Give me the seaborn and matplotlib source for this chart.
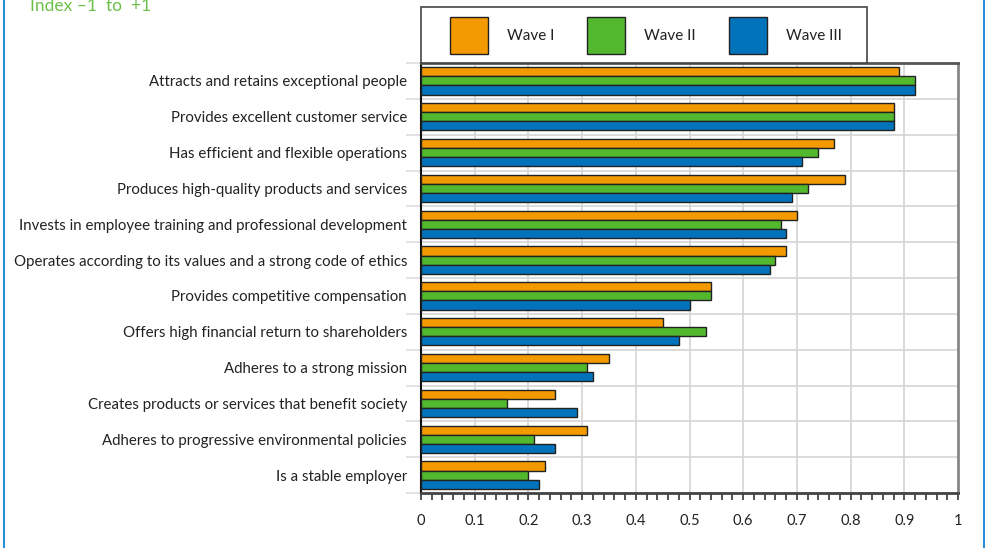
import matplotlib
matplotlib.use("Agg")
import matplotlib.pyplot as plt
import seaborn as sns
import pandas as pd
import numpy as np
from matplotlib.ticker import MultipleLocator, FixedLocator
from matplotlib.patches import Patch, Rectangle

categories = [
    "Attracts and retains exceptional people",
    "Provides excellent customer service",
    "Has efficient and flexible operations",
    "Produces high-quality products and services",
    "Invests in employee training and professional development",
    "Operates according to its values and a strong code of ethics",
    "Provides competitive compensation",
    "Offers high financial return to shareholders",
    "Adheres to a strong mission",
    "Creates products or services that benefit society",
    "Adheres to progressive environmental policies",
    "Is a stable employer",
]
waves = ["Wave I", "Wave II", "Wave III"]
wave1 = [0.89, 0.88, 0.77, 0.79, 0.70, 0.68, 0.54, 0.45, 0.35, 0.25, 0.31, 0.23]
wave2 = [0.92, 0.88, 0.74, 0.72, 0.67, 0.66, 0.54, 0.53, 0.31, 0.16, 0.21, 0.20]
wave3 = [0.92, 0.88, 0.71, 0.69, 0.68, 0.65, 0.50, 0.48, 0.32, 0.29, 0.25, 0.22]
colors = ["#F29A00", "#52B92E", "#0073BB"]
xticklabels = ["0", "0.1", "0.2", "0.3", "0.4", "0.5", "0.6", "0.7", "0.8", "0.9", "1"]
title_text = "Index \u20131  to  +1"

rows = []
for w, vals in zip(waves, [wave1, wave2, wave3]):
    for c, v in zip(categories, vals):
        rows.append({"category": c, "wave": w, "value": v})
df = pd.DataFrame(rows)

sns.set_style("white")
plt.rcParams["font.family"] = ["Lato", "DejaVu Sans"]

W, H = 985, 548
fig = plt.figure(figsize=(W/100, H/100), dpi=100)
ax = fig.add_axes([421/W, 1-493/H, (958-421)/W, (493-63)/H])

sns.barplot(data=df, y="category", x="value", hue="wave", order=categories,
            hue_order=waves, palette=colors, saturation=1, orient="h", width=0.76,
            edgecolor="#222222", linewidth=1.0, ax=ax, legend=False, zorder=3)

ax.set_xlim(0, 1)
ax.set_ylim(len(categories)-0.5, -0.5)
ax.set_xlabel("")
ax.set_ylabel("")
ax.set_xticks(np.linspace(0, 1, 11))
ax.set_xticklabels(xticklabels)
ax.xaxis.set_minor_locator(MultipleLocator(0.02))
ax.tick_params(axis="x", which="both", direction="out", length=5, width=1.2,
               color="#333333", labelsize=10.5, labelcolor="#222222", pad=10, bottom=True)
ax.yaxis.set_minor_locator(FixedLocator(np.arange(-0.5, len(categories), 1)))
ax.tick_params(axis="y", which="major", length=0, pad=10, labelsize=10.8, labelcolor="#222222")
ax.tick_params(axis="y", which="minor", length=11, width=1.2, color="#dddddd", left=True)
ax.grid(axis="x", which="major", color="#d4d4d4", linewidth=1.2, zorder=0)
ax.grid(axis="y", which="minor", color="#d4d4d4", linewidth=1.2, zorder=0)
ax.set_axisbelow(True)

for side, col, lw in [("left", "#111111", 1.5), ("bottom", "#444444", 2.0),
                      ("right", "#888888", 2.0), ("top", "#555555", 2.0)]:
    ax.spines[side].set_visible(True)
    ax.spines[side].set_color(col)
    ax.spines[side].set_linewidth(lw)

# legend frame
fig.patches.append(Rectangle((421/W, 1-63/H), (867-421)/W, (63-7)/H, transform=fig.transFigure,
                             facecolor="white", edgecolor="#444444", linewidth=1.2, zorder=5))

fs = 11.0
fs_px = fs * 100 / 72
hh = (37/fs_px - 0.245) / 0.65
handles = [Patch(facecolor=c, edgecolor="#222222", linewidth=1.0) for c in colors]
leg = fig.legend(handles, waves, loc="center left", ncol=3,
                 bbox_to_anchor=(450/W, 1-35.5/H), borderaxespad=0, borderpad=0,
                 frameon=False, handlelength=38/fs_px, handleheight=hh,
                 handletextpad=19/fs_px, columnspacing=33/fs_px, fontsize=fs)
leg.set_zorder(6)
for t in leg.get_texts():
    t.set_color("#222222")

fig.text(30/W, 1-11/H, title_text, color="#6CC04A", fontsize=12.5, va="baseline", ha="left")

fig.patches.append(Rectangle((3.5/W, -0.01), (984-3.5)/W, 1.05, transform=fig.transFigure,
                             fill=False, edgecolor="#2A8FD8", linewidth=1.5, zorder=10))

fig.savefig("out.png", dpi=100)
